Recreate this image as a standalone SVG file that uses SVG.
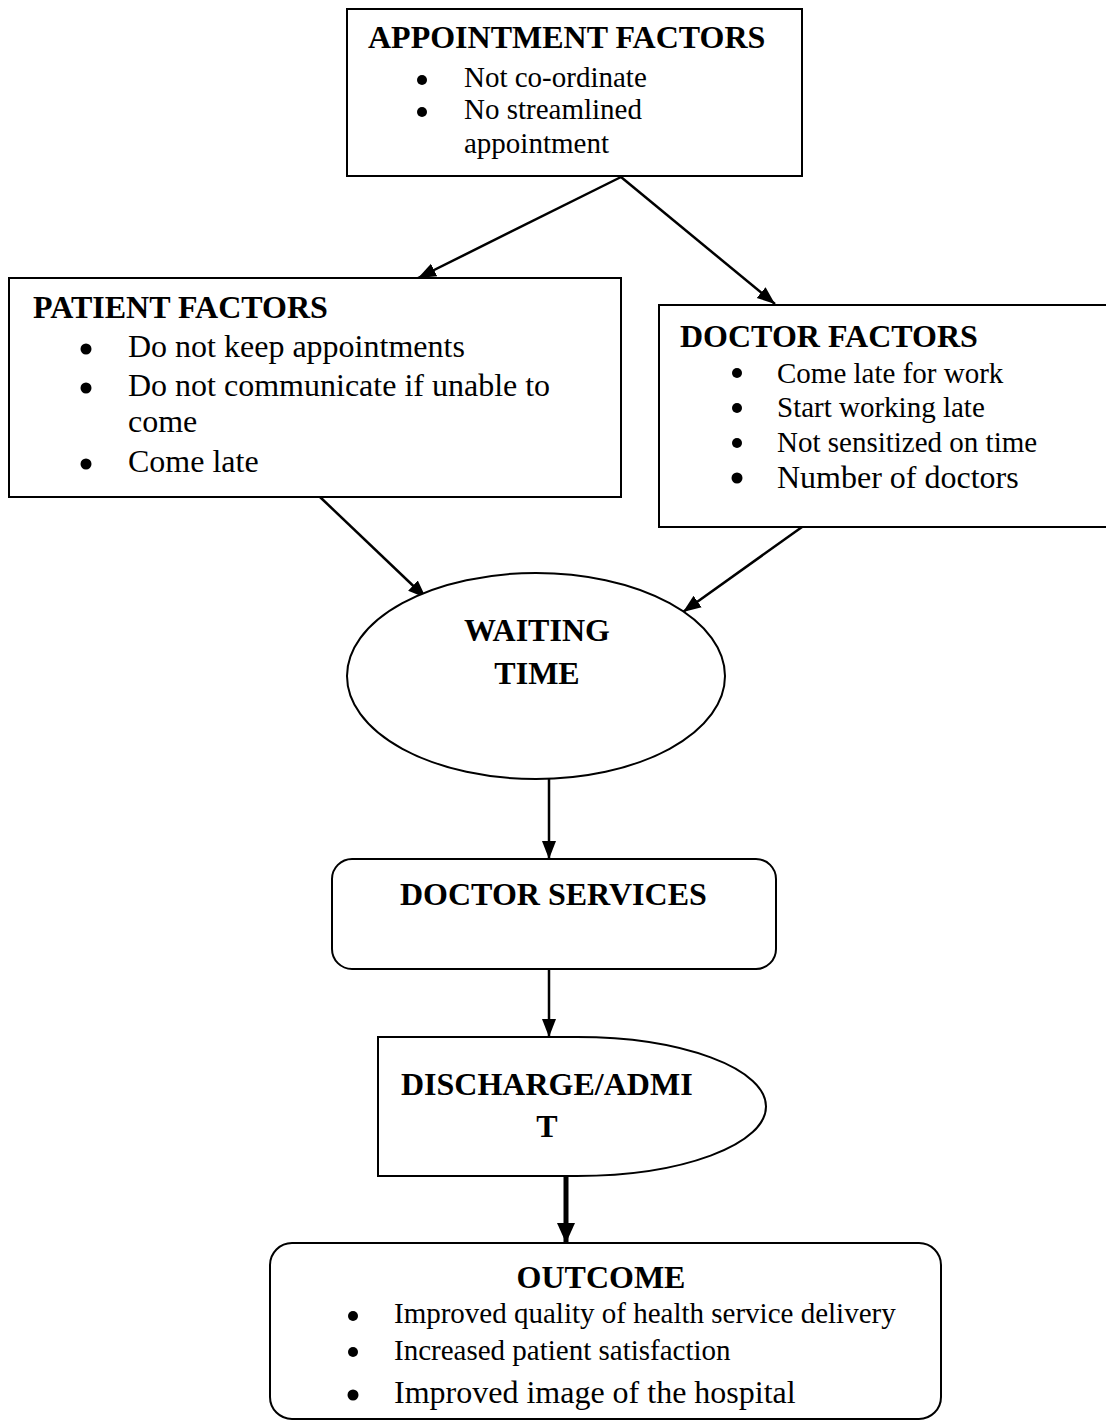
<svg xmlns="http://www.w3.org/2000/svg" width="1106" height="1420" viewBox="0 0 1106 1420">
  <style>
    .shape { fill: #ffffff; stroke: #000000; stroke-width: 2; }
    .title { font-family: "Liberation Serif", "Times New Roman", serif; font-weight: bold; font-size: 32px; fill: #000; }
    .item { font-family: "Liberation Serif", "Times New Roman", serif; font-size: 29px; fill: #000; }
    .item-lg { font-family: "Liberation Serif", "Times New Roman", serif; font-size: 32px; fill: #000; }
    .bullet { fill: #000; }
    .link { fill: none; stroke: #000; stroke-width: 2.5; }
    .link-thick { fill: none; stroke: #000; stroke-width: 5; }
  </style>
  <defs>
    <marker id="arrow" markerUnits="userSpaceOnUse" markerWidth="20" markerHeight="20" viewBox="0 0 20 20" refX="18" refY="10" orient="auto">
      <path d="M0,3 L18,10 L0,17 Z" fill="#000"/>
    </marker>
    <marker id="arrow-thick" markerUnits="userSpaceOnUse" markerWidth="22" markerHeight="22" viewBox="0 0 22 22" refX="20" refY="11" orient="auto">
      <path d="M0,2 L20,11 L0,20 Z" fill="#000"/>
    </marker>
  </defs>

  <rect width="1106" height="1420" fill="#ffffff"/>

  <!-- Connectors -->
  <g id="connectors">
    <line class="link" x1="621" y1="177" x2="418" y2="278" marker-end="url(#arrow)"/>
    <line class="link" x1="621" y1="177" x2="775" y2="304" marker-end="url(#arrow)"/>
    <line class="link" x1="320" y1="497" x2="426" y2="598" marker-end="url(#arrow)"/>
    <line class="link" x1="802" y1="527" x2="683" y2="612" marker-end="url(#arrow)"/>
    <line class="link" x1="549" y1="779" x2="549" y2="859" marker-end="url(#arrow)"/>
    <line class="link" x1="549" y1="969" x2="549" y2="1037" marker-end="url(#arrow)"/>
    <line class="link-thick" x1="566" y1="1174" x2="566" y2="1243" marker-end="url(#arrow-thick)"/>
  </g>

  <!-- Appointment factors -->
  <g id="appointment-factors">
    <rect class="shape" x="347" y="9" width="455" height="167"/>
    <text class="title" x="368" y="48">APPOINTMENT FACTORS</text>
    <circle class="bullet" cx="422" cy="80" r="5"/>
    <text class="item" x="464" y="87">Not co-ordinate</text>
    <circle class="bullet" cx="422" cy="112" r="5"/>
    <text class="item" x="464" y="119">No streamlined</text>
    <text class="item" x="464" y="153">appointment</text>
  </g>

  <!-- Patient factors -->
  <g id="patient-factors">
    <rect class="shape" x="9" y="278" width="612" height="219"/>
    <text class="title" x="33" y="318">PATIENT FACTORS</text>
    <circle class="bullet" cx="86" cy="349" r="5.5"/>
    <text class="item-lg" x="128" y="357">Do not keep appointments</text>
    <circle class="bullet" cx="86" cy="388" r="5.5"/>
    <text class="item-lg" x="128" y="396">Do not communicate if unable to</text>
    <text class="item-lg" x="128" y="432">come</text>
    <circle class="bullet" cx="86" cy="464" r="5.5"/>
    <text class="item-lg" x="128" y="472">Come late</text>
  </g>

  <!-- Doctor factors -->
  <g id="doctor-factors">
    <rect class="shape" x="659" y="305" width="460" height="222"/>
    <text class="title" x="680" y="347">DOCTOR FACTORS</text>
    <circle class="bullet" cx="737" cy="373" r="5"/>
    <text class="item" x="777" y="383">Come late for work</text>
    <circle class="bullet" cx="737" cy="408" r="5"/>
    <text class="item" x="777" y="417">Start working late</text>
    <circle class="bullet" cx="737" cy="443" r="5"/>
    <text class="item" x="777" y="452">Not sensitized on time</text>
    <circle class="bullet" cx="737" cy="478" r="5.5"/>
    <text class="item-lg" x="777" y="488">Number of doctors</text>
  </g>

  <!-- Waiting time -->
  <g id="waiting-time">
    <ellipse class="shape" cx="536" cy="676" rx="189" ry="103"/>
    <text class="title" x="537" y="641" text-anchor="middle">WAITING</text>
    <text class="title" x="537" y="684" text-anchor="middle">TIME</text>
  </g>

  <!-- Doctor services -->
  <g id="doctor-services">
    <rect class="shape" x="332" y="859" width="444" height="110" rx="20" ry="20"/>
    <text class="title" x="400" y="905">DOCTOR SERVICES</text>
  </g>

  <!-- Discharge / admit -->
  <g id="discharge-admit">
    <path class="shape" d="M378,1037 H577 A189,69.5 0 0 1 577,1176 H378 Z"/>
    <text class="title" x="401" y="1095">DISCHARGE/ADMI</text>
    <text class="title" x="547" y="1137" text-anchor="middle">T</text>
  </g>

  <!-- Outcome -->
  <g id="outcome">
    <rect class="shape" x="270" y="1243" width="671" height="176" rx="22" ry="22"/>
    <text class="title" x="601" y="1288" text-anchor="middle">OUTCOME</text>
    <circle class="bullet" cx="353" cy="1316" r="5"/>
    <text class="item" x="394" y="1323">Improved quality of health service delivery</text>
    <circle class="bullet" cx="353" cy="1352" r="5"/>
    <text class="item" x="394" y="1360">Increased patient satisfaction</text>
    <circle class="bullet" cx="353" cy="1395" r="5.5"/>
    <text class="item-lg" x="394" y="1403">Improved image of the hospital</text>
  </g>
</svg>
